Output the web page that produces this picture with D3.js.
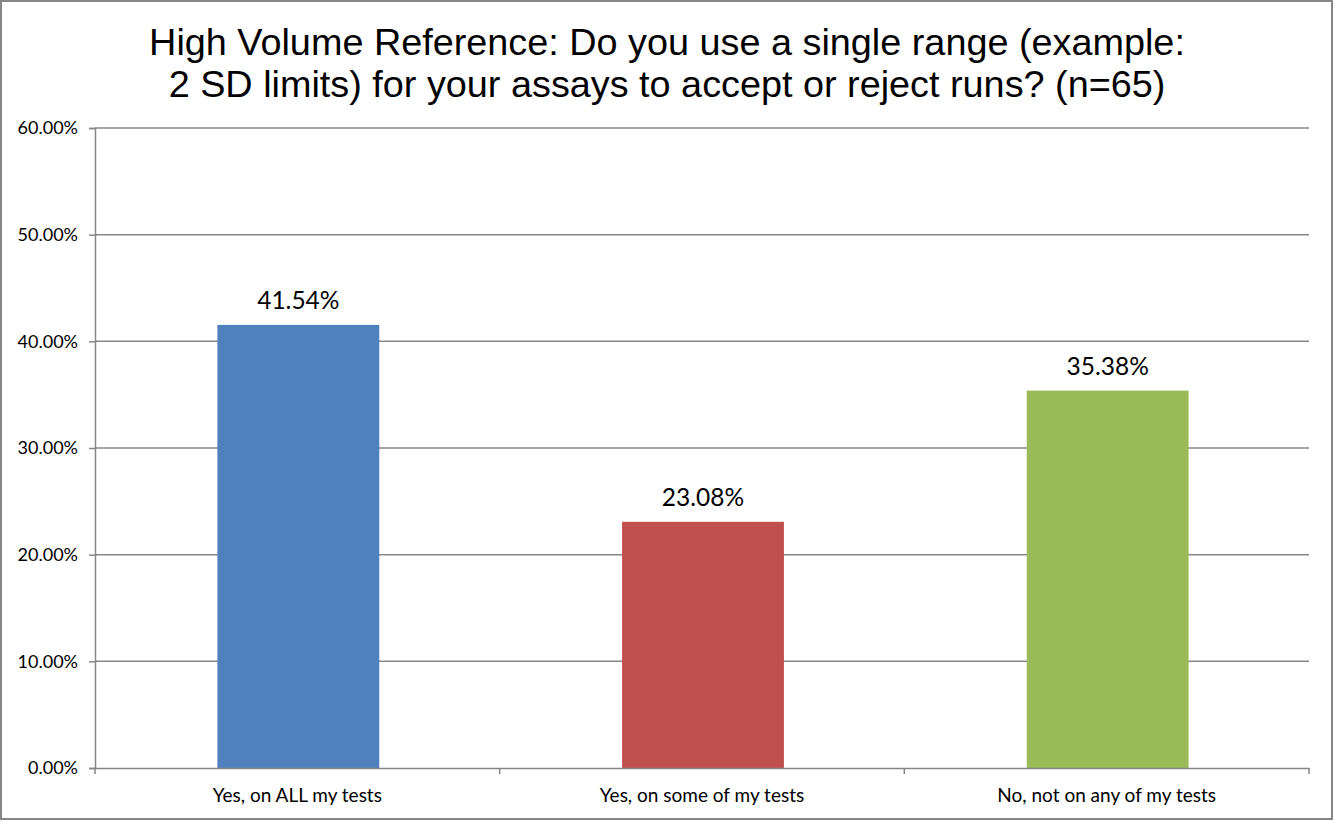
<!DOCTYPE html>
<html><head><meta charset="utf-8">
<script src="https://cdn.jsdelivr.net/npm/d3@7"></script>
<style>body{margin:0;background:#fff}svg{display:block}</style>
</head><body>
<script>
const categories = ["Yes, on ALL my tests", "Yes, on some of my tests", "No, not on any of my tests"];
const values = [41.54, 23.08, 35.38];
const colors = ["#4F81BD", "#C0504D", "#9BBB59"];
const yTicks = [0, 10, 20, 30, 40, 50, 60];
const titleLines = ["High Volume Reference: Do you use a single range (example:", "2 SD limits) for your assays to accept or reject runs? (n=65)"];

const W = 1334, H = 821;
const m = {left: 95, right: 1309, top: 128, bottom: 768};
const svg = d3.select("body").append("svg").attr("width", W).attr("height", H);
svg.append("rect").attr("x", 1).attr("y", 1).attr("width", W - 3).attr("height", H - 3)
  .attr("fill", "#fff").attr("stroke", "#868686").attr("stroke-width", 2);

const x = d3.scaleBand().domain(categories).range([m.left, m.right]).paddingInner(0.6).paddingOuter(0.3);
const y = d3.scaleLinear().domain([0, 60]).range([m.bottom, m.top]);

// gridlines
svg.append("g").selectAll("line").data(yTicks.filter(d => d > 0)).join("line")
  .attr("x1", m.left).attr("x2", m.right).attr("y1", d => y(d)).attr("y2", d => y(d))
  .attr("stroke", "#868686").attr("stroke-width", 1.5);

// y axis
const ya = svg.append("g").attr("transform", `translate(${m.left},0)`)
  .call(d3.axisLeft(y).tickValues(yTicks).tickSize(6).tickPadding(11).tickFormat(d => d.toFixed(2) + "%"));
ya.select(".domain").attr("stroke", "#868686").attr("stroke-width", 1.5);
ya.selectAll(".tick line").attr("stroke", "#868686").attr("stroke-width", 1.5);
ya.selectAll("text").attr("font-family", "Lato, 'Open Sans', sans-serif").attr("font-size", 18).attr("fill", "#000");

// bars
svg.append("g").selectAll("rect").data(values).join("rect")
  .attr("x", (d, i) => x(categories[i]) + 1).attr("width", x.bandwidth())
  .attr("y", d => y(d)).attr("height", d => y(0) - y(d))
  .attr("fill", (d, i) => colors[i]);

// x axis
const xa = svg.append("g").attr("transform", `translate(0,${m.bottom})`)
  .call(d3.axisBottom(x).tickSize(0).tickPadding(21));
xa.select(".domain").attr("stroke", "#868686").attr("stroke-width", 1.5);
xa.selectAll("text").attr("font-family", "Lato, 'Open Sans', sans-serif").attr("font-size", 19).attr("fill", "#000");
// category boundary ticks
const step = (m.right - m.left) / categories.length;
svg.append("g").selectAll("line").data(d3.range(categories.length + 1)).join("line")
  .attr("x1", i => m.left + i * step).attr("x2", i => m.left + i * step)
  .attr("y1", m.bottom).attr("y2", m.bottom + 6)
  .attr("stroke", "#868686").attr("stroke-width", 1.5);

// data labels
svg.append("g").selectAll("text").data(values).join("text")
  .attr("x", (d, i) => x(categories[i]) + 1 + x.bandwidth() / 2).attr("y", d => y(d) - 16)
  .attr("text-anchor", "middle").attr("font-family", "Lato, 'Open Sans', sans-serif").attr("font-size", 24.5)
  .text(d => d.toFixed(2) + "%");

// title
svg.append("g").selectAll("text").data(titleLines).join("text")
  .attr("x", W / 2).attr("y", (d, i) => 55 + i * 42).attr("text-anchor", "middle")
  .attr("font-family", "'Liberation Sans', Arial, sans-serif").attr("font-size", 37.8)
  .text(d => d);
</script>
</body></html>
